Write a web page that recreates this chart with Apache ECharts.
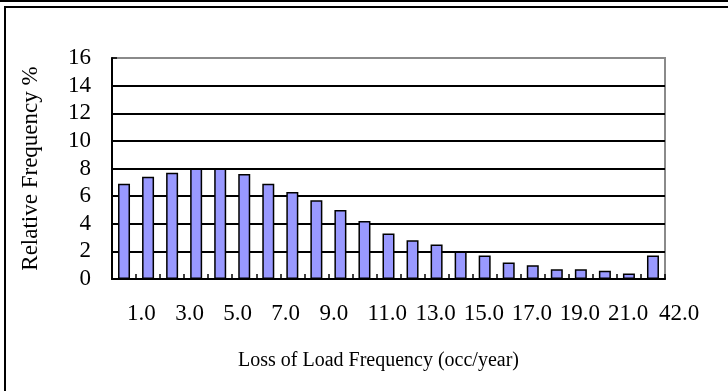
<!DOCTYPE html>
<html>
<head>
<meta charset="utf-8">
<script src="https://cdn.jsdelivr.net/npm/echarts@6/dist/echarts.min.js"></script>
<style>
  html, body { margin: 0; padding: 0; background: #ffffff; }
  #chart { width: 728px; height: 391px; }
</style>
</head>
<body>
<div id="chart"></div>
<script>
// Loss-of-load frequency distribution (occurrences per year)
const categories = ['0.0', '1.0', '2.0', '3.0', '4.0', '5.0', '6.0', '7.0', '8.0', '9.0',
  '10.0', '11.0', '12.0', '13.0', '14.0', '15.0', '16.0', '17.0', '18.0', '19.0',
  '20.0', '21.0', '42.0'];
const relativeFrequency = [6.9, 7.4, 7.7, 8.0, 8.0, 7.6, 6.9, 6.3, 5.7, 5.0,
  4.2, 3.3, 2.8, 2.5, 2.0, 1.7, 1.2, 1.0, 0.7, 0.7,
  0.6, 0.4, 1.7];
const yTicks = { min: 0, max: 16, interval: 2 };
const xTitle = 'Loss of Load Frequency (occ/year)';
const yTitle = 'Relative Frequency %';

const serif = '"Liberation Serif", "DejaVu Serif", serif';
const chart = echarts.init(document.getElementById('chart'), null, { renderer: 'canvas' });
const lastIdx = categories.length - 1;
const tickFont = 23;

chart.setOption({
  backgroundColor: '#ffffff',
  animation: false,
  graphic: [
    { type: 'line', shape: { x1: 0, y1: 1, x2: 728, y2: 1 }, style: { stroke: '#000', lineWidth: 2 } },
    { type: 'rect', shape: { x: 5, y: 7, width: 800, height: 500 }, style: { fill: 'none', stroke: '#000', lineWidth: 2 } }
  ],
  grid: {
    left: 112, right: 63, top: 58, bottom: 112,
    show: true, borderColor: '#8a8a8a', borderWidth: 2, backgroundColor: '#ffffff'
  },
  xAxis: {
    type: 'category',
    data: categories,
    name: xTitle,
    nameLocation: 'middle',
    nameGap: 72,
    nameTextStyle: { fontFamily: serif, fontSize: 20, color: '#000', padding: [0, 20, 0, 0] },
    axisLine: { lineStyle: { color: '#000', width: 2 } },
    axisTick: { show: true, inside: true, length: 5, interval: 0, lineStyle: { color: '#000', width: 1.5 } },
    axisLabel: {
      interval: (idx) => idx % 2 === 1 || idx === lastIdx,
      margin: 23,
      fontFamily: serif, fontSize: tickFont, color: '#000',
      formatter: (v, idx) => idx === lastIdx ? '{e|' + v + '}' : '{n|' + v + '}',
      rich: {
        n: { width: 42, align: 'left', fontFamily: serif, fontSize: tickFont, color: '#000' },
        e: { width: 42, align: 'left', padding: [0, 0, 0, 54], fontFamily: serif, fontSize: tickFont, color: '#000' }
      }
    },
    splitLine: { show: false }
  },
  yAxis: {
    type: 'value',
    min: yTicks.min, max: yTicks.max, interval: yTicks.interval,
    name: yTitle,
    nameLocation: 'middle',
    nameGap: 70,
    nameTextStyle: { fontFamily: serif, fontSize: 23, color: '#000' },
    axisLine: { show: true, lineStyle: { color: '#000', width: 2 } },
    axisTick: { show: true, inside: true, length: 5, lineStyle: { color: '#000', width: 1.5 } },
    axisLabel: { margin: 21, fontFamily: serif, fontSize: tickFont, color: '#000' },
    splitLine: { show: true, showMinLine: false, showMaxLine: false, lineStyle: { color: '#000', width: 2 } }
  },
  series: [{
    type: 'bar',
    data: relativeFrequency,
    barWidth: 12,
    itemStyle: { color: '#9999ff', borderColor: '#000', borderWidth: 1.5 }
  }]
});
</script>
</body>
</html>
